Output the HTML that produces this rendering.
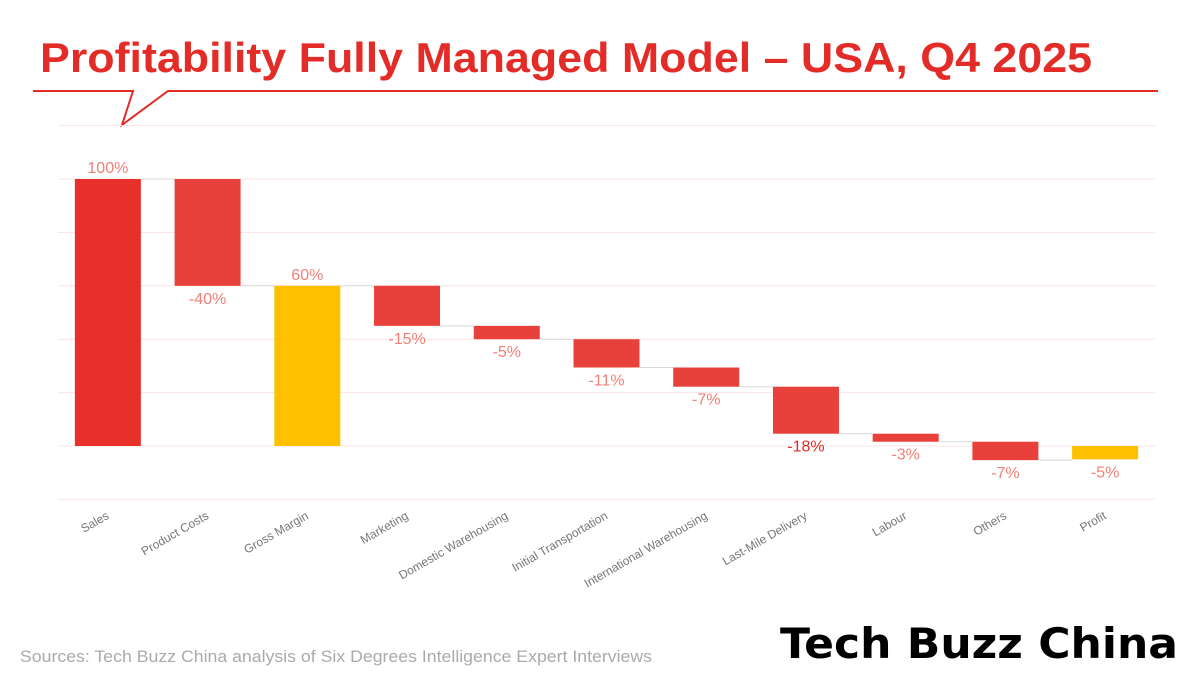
<!DOCTYPE html>
<html><head><meta charset="utf-8"><style>
body{margin:0;background:#fff;}
svg{display:block;font-family:"Liberation Sans",sans-serif;}
</style></head><body>
<svg id="chart" width="1200" height="675" viewBox="0 0 1200 675">
<text x="40" y="72" font-size="42" font-weight="bold" fill="#e32b27" textLength="1052" lengthAdjust="spacingAndGlyphs">Profitability Fully Managed Model – USA, Q4 2025</text>
<polyline points="33,91 133,91 122,125 168,91 1158,91" fill="none" stroke="#e32b27" stroke-width="2"/>
<g id="grid"></g>
<g id="bars"></g>
<g id="labels"></g>
<text x="20" y="662" font-size="17" fill="#aaa" textLength="632" lengthAdjust="spacingAndGlyphs">Sources: Tech Buzz China analysis of Six Degrees Intelligence Expert Interviews</text>
<g>
<text x="780" y="658" font-size="42" font-weight="bold" fill="#000" textLength="398" lengthAdjust="spacingAndGlyphs" style="font-family:'DejaVu Sans','Liberation Sans',sans-serif">Tech Buzz China</text>
</g>
</svg>
<script>
const categories=["Sales","Product Costs","Gross Margin","Marketing","Domestic Warehousing","Initial Transportation","International Warehousing","Last-Mile Delivery","Labour","Others","Profit"];
const values=[100,-40,60,-15,-5,-10.6,-7.2,-17.6,-3,-6.9,-5];
const isTotal=[true,false,true,false,false,false,false,false,false,false,true];
const valueLabels=["100%","-40%","60%","-15%","-5%","-11%","-7%","-18%","-3%","-7%","-5%"];
const gridTicks=[120,100,80,60,40,20,0,-20];
const NS="http://www.w3.org/2000/svg";
const x0=58,x1=1155,bw=(x1-x0)/categories.length,barW=66;
const y=v=>446-v*2.67;
const cx=i=>x0+bw*(i+0.5);
function mk(tag,attrs,parent){const e=document.createElementNS(NS,tag);for(const k in attrs)e.setAttribute(k,attrs[k]);document.getElementById(parent).appendChild(e);return e;}
gridTicks.forEach(t=>{
  const l=mk("line",{x1:x0,x2:x1,y1:y(t),y2:y(t),stroke:"#fbe3e3","stroke-width":1},"grid");
  
  
});
let run=0,prevEnd=null;
values.forEach((v,i)=>{
  let a,b;
  if(isTotal[i]){a=0;b=v;run=v;}else{a=run;b=run+v;run=b;}
  const top=Math.max(a,b),bot=Math.min(a,b);
  const fill=isTotal[i]?(i===0?"#e8302a":"#ffc000"):"#e8403a";
  const r=mk("rect",{x:cx(i)-barW/2,y:y(top),width:barW,height:Math.max(1,y(bot)-y(top)),fill:fill},"bars");
  
  
  if(prevEnd!==null){
    const c=mk("line",{x1:cx(i-1)+barW/2,x2:cx(i)-barW/2,y1:y(prevEnd),y2:y(prevEnd),stroke:"#d8d8d8","stroke-width":1},"bars");
    
    
  }
  prevEnd=b;
  const ly=isTotal[i]&&v>0?y(top)-6:y(bot)+18;
  const t=mk("text",{x:cx(i),y:ly,"text-anchor":"middle","font-size":16,fill:i===7?"#e32b27":"#f07f78"},"labels");
  t.textContent=valueLabels[i];
  
  
  const xl=mk("text",{x:cx(i)+2,y:518,"text-anchor":"end","font-size":12,fill:"#777",transform:`rotate(-30 ${cx(i)+2} 518)`},"labels");
  xl.textContent=categories[i];
  
  
});
</script>
</body></html>
